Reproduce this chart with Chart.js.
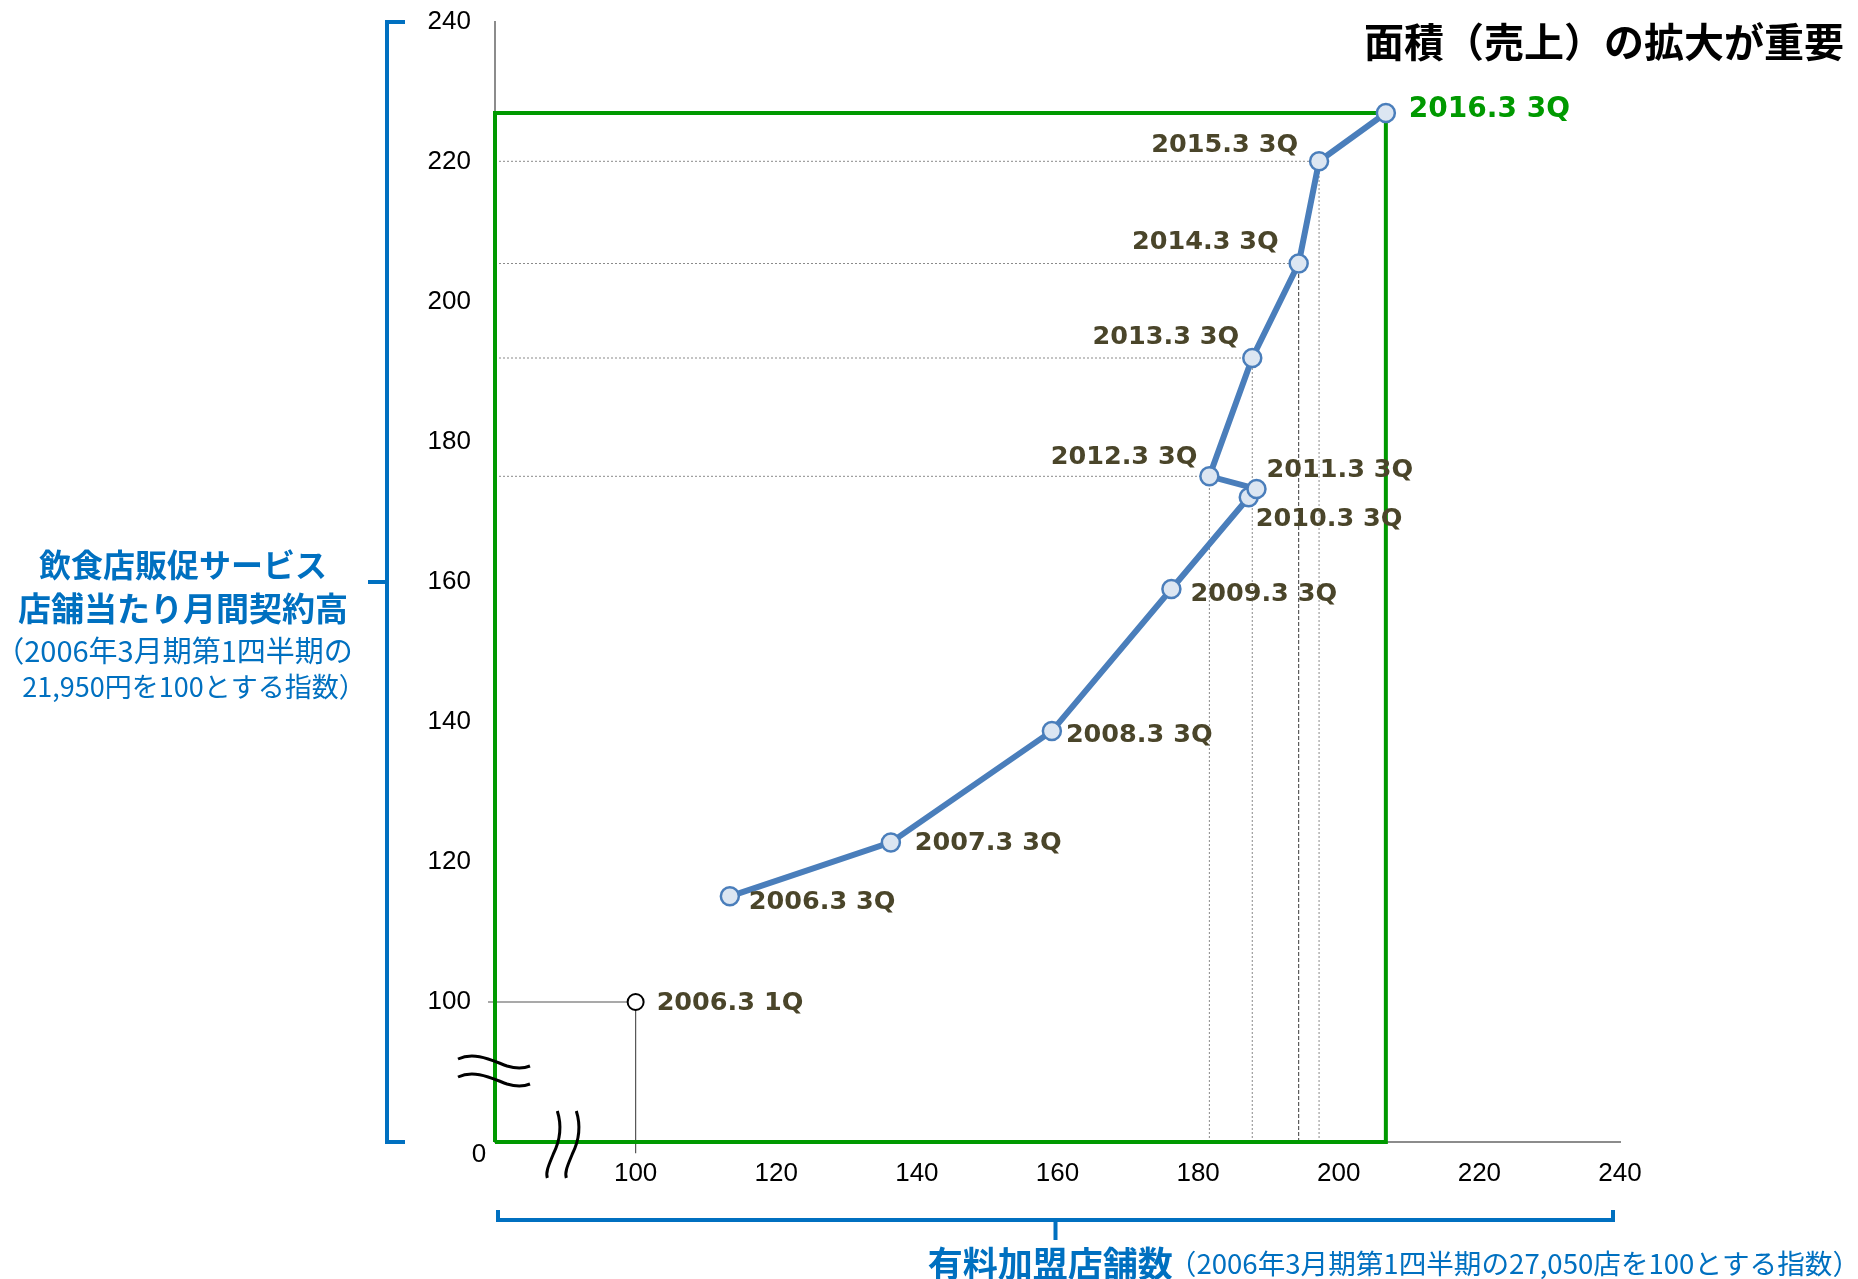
<!DOCTYPE html>
<html>
<head>
<meta charset="utf-8">
<title>有料加盟店舗数と店舗当たり月間契約高</title>
<script src="https://cdn.jsdelivr.net/npm/chart.js@4.4.1/dist/chart.umd.min.js"></script>
<style>
  html, body { margin: 0; padding: 0; background: #fff; }
  #wrap { width: 1858px; height: 1279px; position: relative; }
</style>
</head>
<body>
<div id="wrap"><canvas id="chart"></canvas></div>
<script>
// values (both axes are index values, 2006.3 1Q = 100)
const periods = ['2006.3 3Q', '2007.3 3Q', '2008.3 3Q', '2009.3 3Q', '2010.3 3Q', '2011.3 3Q',
                 '2012.3 3Q', '2013.3 3Q', '2014.3 3Q', '2015.3 3Q', '2016.3 3Q'];
const storeIndex = [113.4, 136.3, 159.2, 176.2, 187.2, 188.3, 181.6, 187.7, 194.3, 197.2, 206.7];
const salesIndex = [115.1, 122.8, 138.7, 159.0, 172.1, 173.3, 175.1, 192.0, 205.5, 220.1, 227.0];

const basePeriod = '2006.3 1Q';
const baseStore = 100;
const baseSales = 100;

// periods that get dotted guide lines to the axes
const guidePeriods = ['2012.3 3Q', '2013.3 3Q', '2014.3 3Q', '2015.3 3Q'];

const axisMin = 80;
const axisMax = 240;
const axisStep = 20;

const titleText = '面積（売上）の拡大が重要';
const yTitleBold = ['飲食店販促サービス', '店舗当たり月間契約高'];
const yTitleNote = ['（2006年3月期第1四半期の', '21,950円を100とする指数）'];
const xTitleBold = '有料加盟店舗数';
const xTitleNote = '（2006年3月期第1四半期の27,050店を100とする指数）';

// label placement around each point: [dx, dy, align]
const labelPlace = [
  [19, 6, 'left'], [24, 1, 'left'], [14, 4, 'left'], [19, 5, 'left'], [7, 22, 'left'],
  [10, -19, 'left'], [-12, -19, 'right'], [-13, -21, 'right'], [-20, -21, 'right'],
  [-21, -16, 'right'], [23, -3, 'left']
];

const BLUE = '#0070c0';
const GREEN = '#009900';
const OLIVE = '#4a452a';
const LINE = '#4a7ebb';

const series = storeIndex.map((x, i) => ({ x: x, y: salesIndex[i] }));
const last = series[series.length - 1];

const guideDatasets = [];
guidePeriods.forEach(p => {
  const i = periods.indexOf(p);
  guideDatasets.push({
    data: [{ x: axisMin, y: salesIndex[i] }, { x: storeIndex[i], y: salesIndex[i] }],
    borderColor: '#8a8a8a', borderWidth: 1, borderDash: [2, 2],
    pointRadius: 0, showLine: true, order: 5
  });
  const dark = p === '2014.3 3Q';
  guideDatasets.push({
    data: [{ x: storeIndex[i], y: axisMin }, { x: storeIndex[i], y: salesIndex[i] }],
    borderColor: dark ? '#3a3a3a' : '#8a8a8a', borderWidth: 1, borderDash: dark ? [4, 2] : [2, 2],
    pointRadius: 0, showLine: true, order: 5
  });
});

// text, brackets and axis break marks
const decorPlugin = {
  id: 'decor',
  afterDraw(chart) {
    const ctx = chart.ctx;
    const a = chart.chartArea;
    const xs = chart.scales.x;
    const ys = chart.scales.y;
    ctx.save();

    // top-right heading
    ctx.fillStyle = '#000';
    ctx.font = 'bold 40px "Noto Sans CJK JP"';
    ctx.textAlign = 'right';
    ctx.textBaseline = 'middle';
    ctx.fillText(titleText, 1844, 42);

    // origin label
    ctx.font = '26px "Liberation Sans", Arial';
    ctx.textAlign = 'center';
    ctx.fillText('0', a.left - 16, a.bottom + 13);

    // left bracket
    const bx = a.left - 108;
    ctx.strokeStyle = BLUE;
    ctx.lineWidth = 4;
    ctx.beginPath();
    ctx.moveTo(bx + 18, a.top);
    ctx.lineTo(bx, a.top);
    ctx.lineTo(bx, a.bottom);
    ctx.lineTo(bx + 18, a.bottom);
    ctx.moveTo(bx, (a.top + a.bottom) / 2);
    ctx.lineTo(bx - 19, (a.top + a.bottom) / 2);
    ctx.stroke();

    // bottom bracket
    const by = a.bottom + 78;
    ctx.beginPath();
    ctx.moveTo(a.left + 3, by - 10);
    ctx.lineTo(a.left + 3, by);
    ctx.lineTo(a.right - 7, by);
    ctx.lineTo(a.right - 7, by - 10);
    const mid = (a.left + a.right) / 2 - 2;
    ctx.moveTo(mid, by);
    ctx.lineTo(mid, by + 20);
    ctx.stroke();

    // y title
    ctx.fillStyle = BLUE;
    ctx.textAlign = 'center';
    ctx.font = 'bold 32px "Noto Sans CJK JP"';
    ctx.fillText(yTitleBold[0], 183, 565);
    ctx.font = 'bold 33px "Noto Sans CJK JP"';
    ctx.fillText(yTitleBold[1], 183, 608);
    ctx.font = '29px "Noto Sans CJK JP"';
    ctx.fillText(yTitleNote[0], 174, 651);
    ctx.font = '27px "Noto Sans CJK JP"';
    ctx.fillText(yTitleNote[1], 194, 687);

    // x title
    ctx.textAlign = 'right';
    ctx.font = '27.6px "Noto Sans CJK JP"';
    ctx.fillText(xTitleNote, 1860, 1264);
    const w = ctx.measureText(xTitleNote).width;
    ctx.font = 'bold 35px "Noto Sans CJK JP"';
    ctx.fillText(xTitleBold, 1860 - w + 4, 1264);

    // axis break marks
    ctx.strokeStyle = '#000';
    ctx.lineWidth = 3;
    const yb = ys.getPixelForValue(90);
    [-9, 9].forEach(off => {
      const y0 = yb + off;
      ctx.beginPath();
      ctx.moveTo(a.left - 37, y0 - 4);
      ctx.bezierCurveTo(a.left - 20, y0 - 12, a.left - 2, y0 - 2, a.left + 12, y0 + 3);
      ctx.bezierCurveTo(a.left + 22, y0 + 6, a.left + 30, y0 + 5, a.left + 35, y0 + 3);
      ctx.stroke();
    });
    const xb = xs.getPixelForValue(90);
    [-10, 9].forEach(off => {
      const x0 = xb + off;
      ctx.beginPath();
      ctx.moveTo(x0 + 2, a.bottom - 31);
      ctx.bezierCurveTo(x0 + 8, a.bottom - 12, x0 + 2, a.bottom + 4, x0 - 2, a.bottom + 12);
      ctx.bezierCurveTo(x0 - 6, a.bottom + 22, x0 - 10, a.bottom + 30, x0 - 8, a.bottom + 36);
      ctx.stroke();
    });

    // point labels
    const meta = chart.getDatasetMeta(0);
    ctx.textBaseline = 'middle';
    meta.data.forEach((pt, i) => {
      const pl = labelPlace[i];
      const isLast = i === periods.length - 1;
      ctx.font = isLast ? 'bold 28px "DejaVu Sans"' : 'bold 25.5px "DejaVu Sans"';
      ctx.fillStyle = isLast ? GREEN : OLIVE;
      ctx.textAlign = pl[2];
      ctx.fillText(periods[i], pt.x + pl[0], pt.y + pl[1]);
    });
    const bm = chart.getDatasetMeta(1).data[0];
    ctx.font = 'bold 25.5px "DejaVu Sans"';
    ctx.fillStyle = OLIVE;
    ctx.textAlign = 'left';
    ctx.fillText(basePeriod, bm.x + 21, bm.y + 1);

    ctx.restore();
  }
};

const axisTick = {
  color: '#000',
  font: { family: '"Liberation Sans", Arial', size: 26 },
  stepSize: axisStep,
  callback: v => (v === axisMin ? '' : v)
};

new Chart(document.getElementById('chart'), {
  type: 'scatter',
  data: {
    datasets: [
      {
        label: '3Q',
        data: series,
        showLine: true,
        borderColor: LINE,
        borderWidth: 6,
        pointRadius: 9,
        pointBorderWidth: 2.5,
        pointBackgroundColor: '#dce6f2',
        pointBorderColor: LINE,
        order: 1,
        clip: false
      },
      {
        label: basePeriod,
        data: [{ x: baseStore, y: baseSales }],
        pointRadius: 8,
        pointBorderWidth: 2,
        pointBackgroundColor: '#fff',
        pointBorderColor: '#000',
        order: 2
      },
      {
        label: 'base guide',
        data: [{ x: axisMin - 1, y: baseSales }, { x: baseStore, y: baseSales }, { x: baseStore, y: axisMin - 1.6 }],
        showLine: true,
        borderColor: '#555',
        borderWidth: 1.2,
        pointRadius: 0,
        order: 4,
        clip: false
      },
      {
        label: 'area',
        data: [{ x: axisMin, y: axisMin }, { x: axisMin, y: last.y }, { x: last.x, y: last.y },
               { x: last.x, y: axisMin }, { x: axisMin, y: axisMin }],
        showLine: true,
        borderColor: GREEN,
        borderWidth: 4,
        borderJoinStyle: 'miter',
        pointRadius: 0,
        order: 3,
        clip: false
      },
      ...guideDatasets
    ]
  },
  options: {
    responsive: true,
    maintainAspectRatio: false,
    devicePixelRatio: 1,
    animation: false,
    layout: { padding: { left: 0, top: 22, right: 238, bottom: 0 } },
    plugins: { legend: { display: false }, tooltip: { enabled: false } },
    scales: {
      x: {
        type: 'linear',
        min: axisMin,
        max: axisMax,
        grid: { display: false, drawTicks: false },
        border: { display: true, color: '#8c8c8c', width: 2 },
        ticks: Object.assign({ padding: 16, maxRotation: 0 }, axisTick),
        afterFit: s => { s.height = 137; }
      },
      y: {
        type: 'linear',
        min: axisMin,
        max: axisMax,
        // invisible tick marks keep the labels off the axis without padding the top
        grid: { display: true, drawOnChartArea: false, drawTicks: true, tickLength: 24, color: 'rgba(0,0,0,0)' },
        border: { display: true, color: '#8c8c8c', width: 2 },
        ticks: Object.assign({ padding: 0 }, axisTick),
        afterFit: s => { s.width = 495; }
      }
    }
  },
  plugins: [decorPlugin]
});
</script>
</body>
</html>
